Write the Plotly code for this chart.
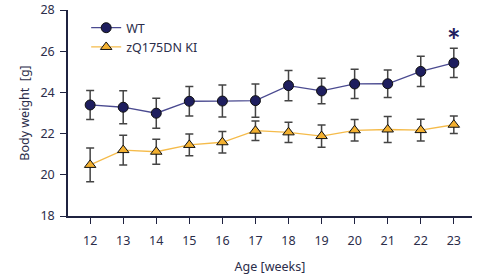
import plotly.graph_objects as go

weeks = [12, 13, 14, 15, 16, 17, 18, 19, 20, 21, 22, 23]
wt_mean = [23.39, 23.28, 22.99, 23.57, 23.58, 23.60, 24.33, 24.07, 24.41, 24.42, 25.02, 25.43]
wt_err = [0.70, 0.80, 0.73, 0.72, 0.78, 0.81, 0.73, 0.62, 0.71, 0.67, 0.73, 0.71]
ki_mean = [20.48, 21.20, 21.12, 21.45, 21.58, 22.14, 22.06, 21.88, 22.16, 22.20, 22.17, 22.43]
ki_err = [0.82, 0.72, 0.61, 0.53, 0.52, 0.47, 0.49, 0.54, 0.52, 0.63, 0.53, 0.43]
y_ticks = [18, 20, 22, 24, 26, 28]
sig_week = 23
sig_y = 26.93

navy = "#1e1e5e"
text_col = "#2b2d4a"
font_family = "'Noto Sans', Lato, sans-serif"

fig = go.Figure()
fig.add_trace(go.Scatter(
    x=weeks, y=wt_mean, name="WT", mode="lines+markers",
    line=dict(color="#4a4a90", width=1.3),
    marker=dict(symbol="circle", size=10, color=navy, line=dict(color="#111", width=1)),
    error_y=dict(type="data", array=wt_err, visible=True, color="#444", thickness=1.5, width=4),
))
fig.add_trace(go.Scatter(
    x=weeks, y=ki_mean, name="zQ175DN KI", mode="lines+markers",
    line=dict(color="#f5bb4a", width=1.3),
    marker=dict(symbol="triangle-up", size=10, color="#f3b030", line=dict(color="#111", width=1)),
    error_y=dict(type="data", array=ki_err, visible=True, color="#444", thickness=1.5, width=4),
))

fig.add_annotation(x=sig_week, y=sig_y, text="<b>*</b>", showarrow=False,
                   font=dict(size=32, color=navy, family="Lato, sans-serif"), yshift=-8)

fig.update_layout(
    width=479, height=277,
    margin=dict(l=68, r=7, t=10, b=61),
    paper_bgcolor="white", plot_bgcolor="white",
    font=dict(family=font_family, size=12.5, color=text_col),
    showlegend=True,
    legend=dict(x=0.045, y=0.985, xanchor="left", yanchor="top",
                bgcolor="rgba(0,0,0,0)", font=dict(size=12.5, color=text_col),
                tracegroupgap=0, itemwidth=30),
    xaxis=dict(range=[11.33, 23.55], tickvals=weeks, ticks="outside", ticklen=6,
               tickcolor="#1f2340", showline=True, linecolor="#1f2340", linewidth=1.5,
               showgrid=False, zeroline=False, ticklabelstandoff=6, automargin=False,
               title=dict(text="Age [weeks]", standoff=14, font=dict(size=12.5))),
    yaxis=dict(range=[18, 28], tickvals=y_ticks, ticks="outside", ticklen=6,
               tickcolor="#1f2340", showline=True, linecolor="#1f2340", linewidth=1.5,
               showgrid=False, zeroline=False, ticklabelstandoff=3, automargin=False,
               title=dict(text="Body weight  [g]", standoff=8, font=dict(size=12.5))),
)

fig.write_html("out.html", config={"displayModeBar": False},
               post_script="document.body.style.margin='0';document.body.style.padding='0';")
